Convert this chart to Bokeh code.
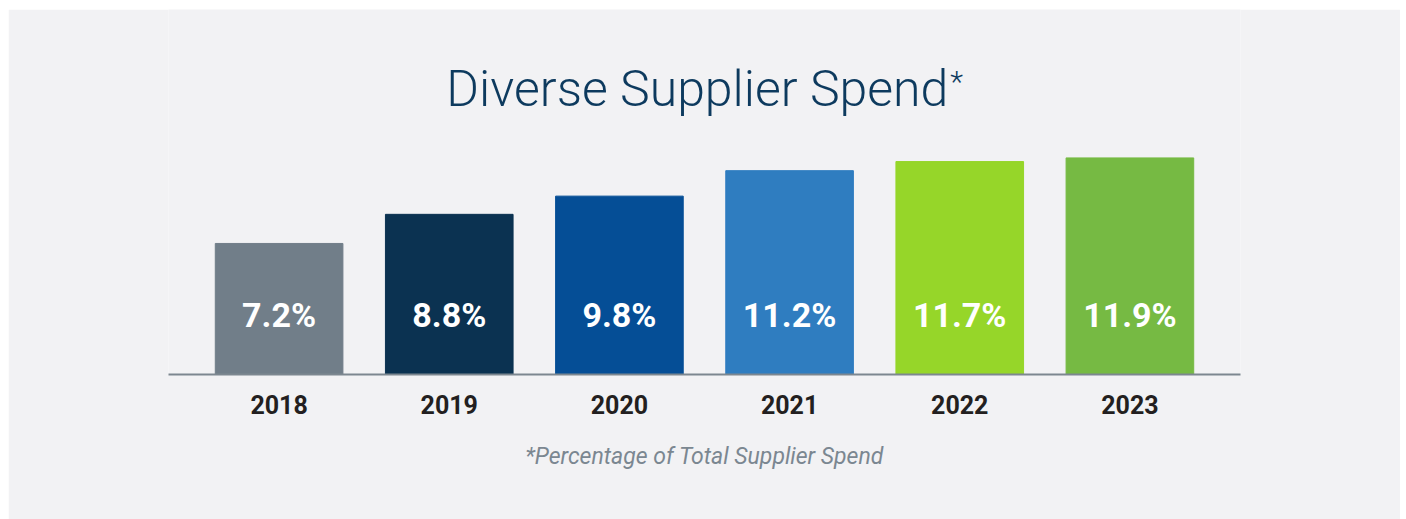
from bokeh.plotting import figure
from bokeh.models import Range1d, FixedTicker, ColumnDataSource, Spacer
from bokeh.layouts import row, column
from bokeh.core.properties import value
from bokeh.embed import file_html
from bokeh.resources import INLINE

years = ["2018", "2019", "2020", "2021", "2022", "2023"]
spend = [7.2, 8.8, 9.8, 11.2, 11.7, 11.9]
bar_colors = ["#717e89", "#0b3251", "#054e96", "#2f7dc0", "#96d629", "#76ba43"]
title_text = "Diverse Supplier Spend"
footnote = "*Percentage of Total Supplier Spend"

BG = "#f2f2f4"
W, H = 1392, 510
PX_PER_X = 170.2
PX_PER_Y = 18.2
FRAME_H = 365

xs = list(range(len(years)))
labels = [f"{v:.1f}%" for v in spend]

p = figure(width=W, height=H, output_backend="svg", toolbar_location=None,
           x_range=Range1d(-0.65, len(years) - 0.35),
           y_range=Range1d(0, FRAME_H / PX_PER_Y),
           min_border_left=160, min_border_right=160,
           min_border_top=0, min_border_bottom=H - FRAME_H)
p.background_fill_color = BG
p.border_fill_color = BG
p.outline_line_color = None
p.grid.visible = False
p.yaxis.visible = False

src = ColumnDataSource(dict(x=xs, top=spend, color=bar_colors, label=labels))
p.vbar(x="x", top="top", width=0.75, bottom=0, color="color", source=src)

# value labels inside bars
p.text(x="x", y=60 / PX_PER_Y, text="label", source=src,
       text_align="center", text_baseline="middle",
       text_font=value("Roboto"), text_font_style="bold",
       text_font_size="34px", text_color="white")

# title
title_right_x = (940 - 270.6) / PX_PER_X
title_y = 286 / PX_PER_Y
p.text(x=[title_right_x], y=[title_y], text=[title_text],
       text_align="right", text_baseline="alphabetic",
       text_font=value("'Roboto Light', Roboto"), text_font_size="50px",
       text_color="#0d3a5e")
p.text(x=[title_right_x + 2 / PX_PER_X], y=[title_y + 25 / PX_PER_Y], text=["*"],
       text_align="left", text_baseline="top",
       text_font=value("'Roboto Light', Roboto"), text_font_size="30px",
       text_color="#0d3a5e")

# x axis
ax = p.xaxis[0]
ax.ticker = FixedTicker(ticks=xs)
ax.major_label_overrides = {i: y for i, y in zip(xs, years)}
ax.major_tick_line_color = None
ax.minor_tick_line_color = None
ax.axis_line_color = "#7d8790"
ax.axis_line_width = 2
ax.major_label_standoff = 14
ax.major_label_text_font = "Roboto"
ax.major_label_text_font_style = "bold"
ax.major_label_text_font_size = "25px"
ax.major_label_text_color = "#231f20"
ax.axis_label = footnote
ax.axis_label_standoff = 26
ax.axis_label_text_font = "Roboto"
ax.axis_label_text_font_style = "italic"
ax.axis_label_text_font_size = "23px"
ax.axis_label_text_color = "#7b8791"

layout = row(Spacer(width=8), column(Spacer(height=9), p))
open("out.html", "w").write(file_html(layout, INLINE))
